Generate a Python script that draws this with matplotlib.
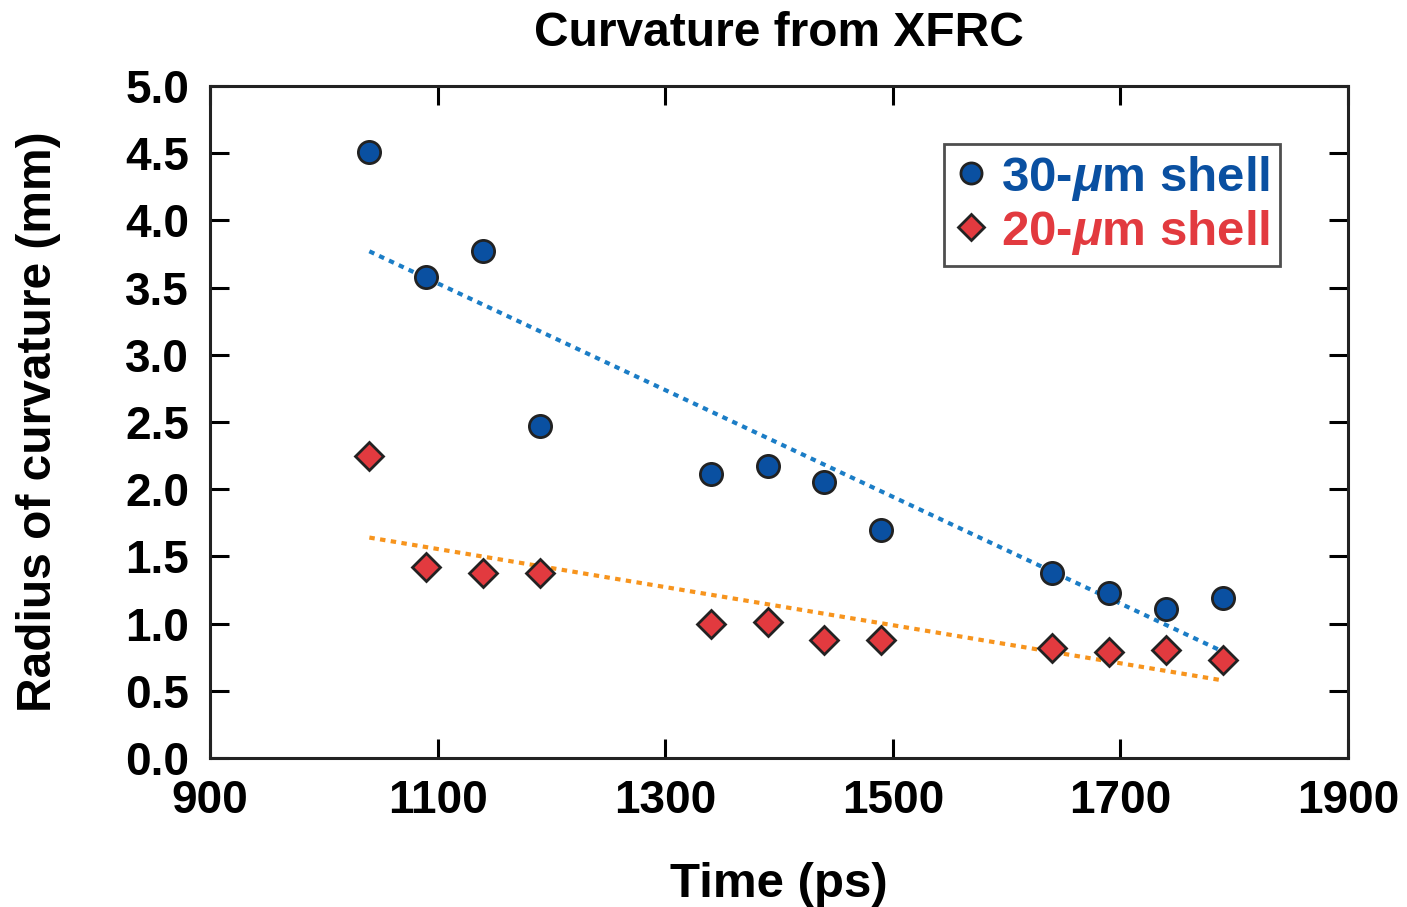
import matplotlib
matplotlib.use("Agg")
import matplotlib.pyplot as plt

plt.rcParams['font.family'] = ['Liberation Sans', 'DejaVu Sans']
plt.rcParams['font.weight'] = 'bold'
plt.rcParams['mathtext.fontset'] = 'custom'
plt.rcParams['mathtext.it'] = 'Liberation Sans:italic:bold'
plt.rcParams['mathtext.rm'] = 'Liberation Sans:bold'

# data
time_ps = [1040, 1090, 1140, 1190, 1340, 1390, 1440, 1490, 1640, 1690, 1740, 1790]
shell30 = [4.51, 3.58, 3.77, 2.47, 2.11, 2.17, 2.05, 1.70, 1.38, 1.23, 1.11, 1.19]
shell20 = [2.25, 1.42, 1.38, 1.38, 1.00, 1.01, 0.88, 0.88, 0.82, 0.79, 0.80, 0.73]
fit_x = [1040, 1788]
fit30 = [3.77, 0.80]
fit20 = [1.64, 0.58]

xticks = [900, 1100, 1300, 1500, 1700, 1900]
yticks = [0.0, 0.5, 1.0, 1.5, 2.0, 2.5, 3.0, 3.5, 4.0, 4.5, 5.0]

blue = '#0A50A1'
red = '#E23A3F'
line_blue = '#1B7DC6'
line_orange = '#F7941D'

fig = plt.figure(figsize=(14.07, 9.07), dpi=100)
ax = fig.add_axes([0.1493, 0.1643, 0.958 - 0.1493, 0.9052 - 0.1643])

ax.plot(fit_x, fit30, color=line_blue, lw=3, dashes=(1.3, 1.3), zorder=2)
ax.plot(fit_x, fit20, color=line_orange, lw=3, dashes=(1.3, 1.3), zorder=2)

ax.plot(time_ps, shell30, 'o', ms=16, mfc=blue, mec='#222222', mew=2,
        ls='none', label=r'30-$\mu$m shell', zorder=3)
ax.plot(time_ps, shell20, 'D', ms=14, mfc=red, mec='#222222', mew=2,
        ls='none', label=r'20-$\mu$m shell', zorder=3)

ax.set_xlim(900, 1900)
ax.set_ylim(0, 5)
ax.set_xticks(xticks)
ax.set_yticks(yticks)
ax.set_yticklabels(['%.1f' % v for v in yticks])
ax.tick_params(direction='in', length=14, width=2.2, top=True, right=True,
               labelsize=33, pad=15)
for s in ax.spines.values():
    s.set_linewidth(2.2)
    s.set_color('#222222')

ax.set_title('Curvature from XFRC', fontsize=34.5, fontweight='bold', pad=29)
ax.set_xlabel('Time (ps)', fontsize=35.5, fontweight='bold', labelpad=28)
ax.set_ylabel('Radius of curvature (mm)', fontsize=34.5, fontweight='bold', labelpad=46)

leg = ax.legend(loc='upper right', bbox_to_anchor=(0.940, 0.914), borderaxespad=0,
                fontsize=35.5, frameon=True, fancybox=False, handlelength=0.7,
                handletextpad=0.25, labelspacing=0.1, borderpad=0.2,
                markerscale=0.95)
leg.get_frame().set_edgecolor('#222222')
leg.get_frame().set_linewidth(2)
for t, c in zip(leg.get_texts(), [blue, red]):
    t.set_color(c)

fig.savefig('out.png', dpi=100)
